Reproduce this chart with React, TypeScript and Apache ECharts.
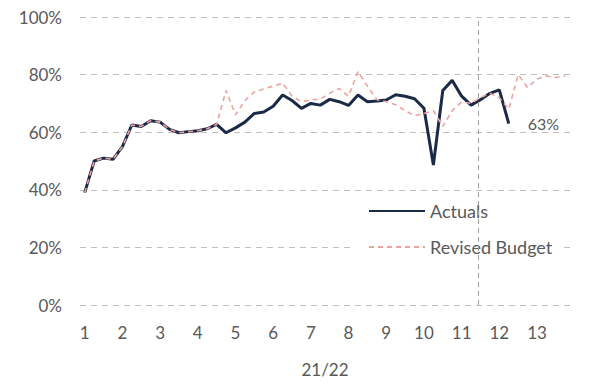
import React, { useEffect, useRef } from "react";
import * as echarts from "echarts";

// Period labels shown on the x axis; each period holds four weeks.
const periods = ["1", "2", "3", "4", "5", "6", "7", "8", "9", "10", "11", "12", "13"];
const weeksPerPeriod = 4;
const seasonLabel = "21/22";

// Weekly values, percent.
const actuals = [
  39, 50, 51, 50.6, 55, 62.5, 62, 64, 63.5, 61, 59.8, 60.2, 60.5, 61.2, 62.7, 59.8,
  61.5, 63.5, 66.5, 67, 69, 72.9, 71, 68.3, 70, 69.4, 71.4, 70.6, 69.3, 72.9, 70.6,
  70.8, 71.2, 73, 72.5, 71.6, 68.3, 48.6, 74.5, 78, 72.5, 69.4, 71.3, 73.5, 74.7, 63,
];
const revisedBudget = [
  39, 50, 51, 50.6, 55, 62.5, 62, 64, 63.5, 61, 59.8, 60.2, 60.5, 61.2, 62.7, 74.5,
  66, 71, 74, 75, 76, 77, 72.5, 70.6, 71.2, 71.5, 73.5, 75.2, 72.5, 81, 76, 71.3,
  70.6, 69.5, 67.5, 65.7, 66.5, 67.5, 62, 67.5, 70.5, 70, 72, 73.5, 72, 68, 80, 75.5,
  78.5, 79.5, 79, 79.5,
];
// Reporting cut-off, measured in weeks from the first week.
const cutoffWeek = 41.8;

const weekCategories = periods.flatMap((p) =>
  Array.from({ length: weeksPerPeriod }, (_, w) => `${p}.${w + 1}`)
);

const textColor = "#595959";
const font = "Lato, sans-serif";

export default function App() {
  const ref = useRef<HTMLDivElement>(null);

  useEffect(() => {
    if (!ref.current) return;
    const chart = echarts.init(ref.current, null, { renderer: "svg" });
    chart.setOption({
      animation: false,
      textStyle: { fontFamily: font, color: textColor },
      grid: { left: 80, right: 19, top: 17, bottom: 79 },
      legend: {
        data: ["Actuals", "Revised Budget"],
        orient: "vertical",
        left: 350,
        top: 196,
        padding: [6, 12, 6, 18],
        backgroundColor: "#ffffff",
        itemWidth: 56,
        itemHeight: 18,
        itemGap: 18,
        // plain line keys, no marker dot
        itemStyle: { opacity: 0 },
        textStyle: { fontSize: 18, color: textColor, fontFamily: font },
      },
      xAxis: [
        {
          type: "category",
          data: weekCategories,
          boundaryGap: true,
          axisLine: { show: false },
          axisTick: { show: false },
          splitLine: { show: false },
          axisLabel: {
            interval: weeksPerPeriod - 1,
            formatter: (v: string) => v.split(".")[0],
            fontSize: 17,
            color: textColor,
            fontFamily: font,
            margin: 19,
          },
          name: seasonLabel,
          nameLocation: "middle",
          nameGap: 56,
          nameTextStyle: { fontSize: 17, color: textColor, fontFamily: font },
        },
        {
          type: "value",
          min: -0.5,
          max: weekCategories.length - 0.5,
          show: false,
        },
      ],
      yAxis: {
        type: "value",
        min: 0,
        max: 100,
        interval: 20,
        axisLine: { show: false },
        axisTick: { show: false },
        axisLabel: {
          formatter: "{value}%",
          fontSize: 17,
          color: textColor,
          fontFamily: font,
          margin: 18,
        },
        splitLine: { lineStyle: { color: "#BFBFBF", width: 1, type: [6, 5] } },
      },
      series: [
        {
          name: "Actuals",
          type: "line",
          data: actuals,
          symbol: "none",
          lineStyle: { color: "#1B2A47", width: 3 },
          itemStyle: { color: "#1B2A47" },
          endLabel: {
            show: true,
            distance: 19,
            formatter: (p: any) => `${p.value}%`,
            fontSize: 16,
            color: textColor,
            fontFamily: font,
          },
        },
        {
          name: "Revised Budget",
          type: "line",
          data: revisedBudget,
          symbol: "none",
          lineStyle: { color: "#EBA3A0", width: 1.6, type: [5, 4] },
          itemStyle: { color: "#EBA3A0" },
        },
        {
          name: "cutoff",
          type: "line",
          xAxisIndex: 1,
          data: [],
          z: 6,
          markLine: {
            silent: true,
            symbol: "none",
            z: 6,
            label: { show: false },
            lineStyle: { color: "#A0A0A0", width: 1, type: [5, 4] },
            data: [{ xAxis: cutoffWeek }],
          },
        },
      ],
    });
    return () => chart.dispose();
  }, []);

  return (
    <div
      ref={ref}
      style={{ position: "absolute", left: 0, top: 0, width: 589, height: 384 }}
    />
  );
}
